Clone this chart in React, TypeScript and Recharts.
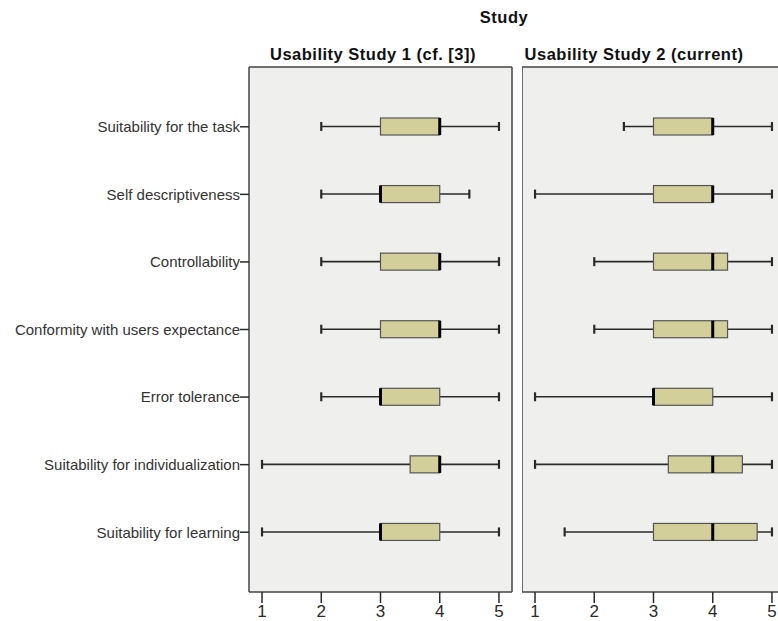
import { ComposedChart, Bar, XAxis, YAxis, CartesianGrid } from "recharts"

const categories = [
  "Suitability for the task",
  "Self descriptiveness",
  "Controllability",
  "Conformity with users expectance",
  "Error tolerance",
  "Suitability for individualization",
  "Suitability for learning",
]

const study1Min = [2, 2, 2, 2, 2, 1, 1]
const study1Q1 = [3, 3, 3, 3, 3, 3.5, 3]
const study1Median = [4, 3, 4, 4, 3, 4, 3]
const study1Q3 = [4, 4, 4, 4, 4, 4, 4]
const study1Max = [5, 4.5, 5, 5, 5, 5, 5]

const study2Min = [2.5, 1, 2, 2, 1, 1, 1.5]
const study2Q1 = [3, 3, 3, 3, 3, 3.25, 3]
const study2Median = [4, 4, 4, 4, 3, 4, 4]
const study2Q3 = [4, 4, 4.25, 4.25, 4, 4.5, 4.75]
const study2Max = [5, 5, 5, 5, 5, 5, 5]

const xTicks = [1, 2, 3, 4, 5]
const xDomain = [0.78, 5.22]

const FONT = "'Liberation Sans', Arial, sans-serif"
const BOX_FILL = "#d3cf9b"
const PANEL_FILL = "#eff0ee"
const INK = "#2a2a2a"
const BORDER = "#444"

const buildRows = (mins: number[], q1s: number[], meds: number[], q3s: number[], maxs: number[]) =>
  categories.map((name, i) => ({
    name,
    min: mins[i],
    q1: q1s[i],
    median: meds[i],
    q3: q3s[i],
    max: maxs[i],
  }))

const study1 = buildRows(study1Min, study1Q1, study1Median, study1Q3, study1Max)
const study2 = buildRows(study2Min, study2Q1, study2Median, study2Q3, study2Max)

const Whisker = (props: any) => {
  const { x, y, width, height } = props
  const cy = y + height / 2
  return (
    <g stroke={INK} strokeWidth={1.6}>
      <line x1={x} x2={x + width} y1={cy} y2={cy} />
      <line x1={x} x2={x} y1={cy - 4.5} y2={cy + 4.5} strokeWidth={2.2} />
      <line x1={x + width} x2={x + width} y1={cy - 4.5} y2={cy + 4.5} strokeWidth={2.2} />
    </g>
  )
}

const Box = (props: any) => {
  const { x, y, width, height } = props
  return <rect x={x} y={y} width={width} height={height} fill={BOX_FILL} stroke="#555" strokeWidth={1.2} />
}

const Median = (props: any) => {
  const { x, y, height } = props
  return <line x1={x} x2={x} y1={y} y2={y + height} stroke="#000" strokeWidth={3} />
}

// frame lines at the edges of the plot area, taken from the chart's own offset
const frameRows = ({ offset }: any) => [offset.top, offset.top + offset.height]
const frameCols = ({ offset }: any) => [offset.left, offset.left + offset.width]

function BoxPanel({ data, showLabels, width }: { data: any[]; showLabels: boolean; width: number }) {
  const left = showLabels ? 249 : 0
  return (
    <ComposedChart
      width={width}
      height={621}
      data={data}
      layout="vertical"
      barGap={-17}
      margin={{ top: 67, right: width - left - 263, left: 0, bottom: 0 }}
    >
      <CartesianGrid
        fill={PANEL_FILL}
        fillOpacity={1}
        stroke={BORDER}
        strokeWidth={1.5}
        horizontalCoordinatesGenerator={frameRows}
        verticalCoordinatesGenerator={frameCols}
      />
      <XAxis
        type="number"
        domain={xDomain}
        ticks={xTicks}
        allowDataOverflow
        axisLine={false}
        tickLine={{ stroke: INK, strokeWidth: 1.5 }}
        tickSize={11}
        tickMargin={2}
        height={29}
        tick={{ fill: INK, fontSize: 17, fontFamily: FONT }}
      />
      <YAxis
        type="category"
        dataKey="name"
        width={left}
        hide={!showLabels}
        axisLine={false}
        tickLine={{ stroke: INK, strokeWidth: 1.5 }}
        tick={{ fill: "#333", fontSize: 15, fontFamily: FONT }}
        tickSize={9}
        tickMargin={0}
        padding={{ top: 26, bottom: 26 }}
      />
      <Bar dataKey={(d: any) => [d.min, d.max]} barSize={17} shape={Whisker} isAnimationActive={false} />
      <Bar dataKey={(d: any) => [d.q1, d.q3]} barSize={17} shape={Box} isAnimationActive={false} />
      <Bar dataKey={(d: any) => [d.median, d.median]} barSize={17} shape={Median} isAnimationActive={false} />
    </ComposedChart>
  )
}

const titleStyle: any = {
  position: "absolute",
  fontFamily: FONT,
  fontWeight: "bold",
  fontSize: 16.5,
  letterSpacing: 0.5,
  color: "#111",
  whiteSpace: "nowrap",
  transform: "translate(-50%, -50%)",
}

export default function App() {
  return (
    <div style={{ position: "absolute", left: 0, top: 0, width: 778, height: 621, overflow: "hidden", background: "#fff" }}>
      <div style={{ ...titleStyle, left: 504, top: 17 }}>Study</div>
      <div style={{ ...titleStyle, left: 373, top: 54 }}>Usability Study 1 (cf. [3])</div>
      <div style={{ ...titleStyle, left: 634, top: 54 }}>Usability Study 2 (current)</div>
      <div style={{ position: "absolute", left: 0, top: 0 }}>
        <BoxPanel data={study1} showLabels width={520} />
      </div>
      <div style={{ position: "absolute", left: 522, top: 0 }}>
        <BoxPanel data={study2} showLabels={false} width={280} />
      </div>
    </div>
  )
}
